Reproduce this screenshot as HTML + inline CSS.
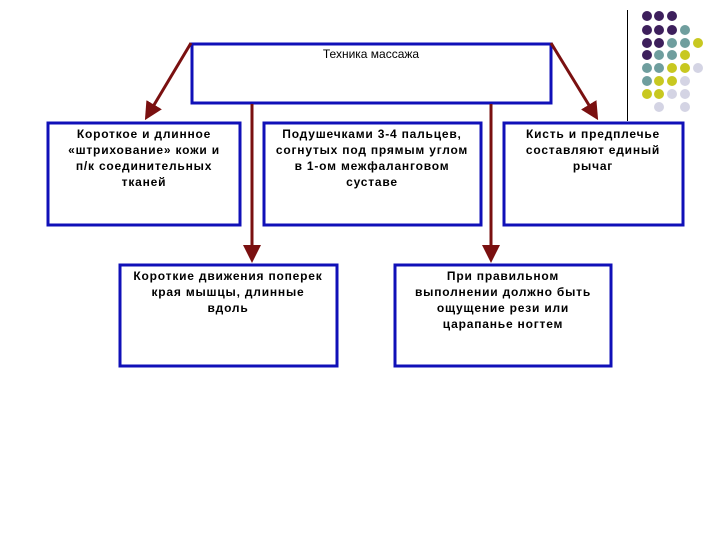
<!DOCTYPE html>
<html><head><meta charset="utf-8"><style>
html,body{margin:0;padding:0;background:#fff;}
svg{display:block;}
text{font-family:"Liberation Sans","Noto Sans CJK SC",sans-serif;font-size:12px;fill:#000;text-anchor:middle;}
.b{font-weight:bold;font-size:12px;letter-spacing:0.8px;}
</style></head><body>
<svg width="720" height="540" viewBox="0 0 720 540" xmlns="http://www.w3.org/2000/svg">
<defs>
<marker id="ah" markerWidth="6" markerHeight="6" refX="4" refY="3" orient="auto" markerUnits="strokeWidth">
<path d="M0,0 L6,3 L0,6 z" fill="#7a1010"/></marker>
</defs>
<line x1="627.5" y1="10" x2="627.5" y2="121" stroke="#000" stroke-width="1"/>
<g>
<circle cx="647" cy="16" r="5" fill="#3d1f5c"/><circle cx="659" cy="16" r="5" fill="#3d1f5c"/><circle cx="672" cy="16" r="5" fill="#3d1f5c"/>
<circle cx="647" cy="30" r="5" fill="#3d1f5c"/><circle cx="659" cy="30" r="5" fill="#3d1f5c"/><circle cx="672" cy="30" r="5" fill="#3d1f5c"/><circle cx="685" cy="30" r="5" fill="#6f9e9e"/>
<circle cx="647" cy="43" r="5" fill="#3d1f5c"/><circle cx="659" cy="43" r="5" fill="#3d1f5c"/><circle cx="672" cy="43" r="5" fill="#6f9e9e"/><circle cx="685" cy="43" r="5" fill="#6f9e9e"/><circle cx="698" cy="43" r="5" fill="#c8c820"/>
<circle cx="647" cy="55" r="5" fill="#3d1f5c"/><circle cx="659" cy="55" r="5" fill="#6f9e9e"/><circle cx="672" cy="55" r="5" fill="#6f9e9e"/><circle cx="685" cy="55" r="5" fill="#c8c820"/>
<circle cx="647" cy="68" r="5" fill="#6f9e9e"/><circle cx="659" cy="68" r="5" fill="#6f9e9e"/><circle cx="672" cy="68" r="5" fill="#c8c820"/><circle cx="685" cy="68" r="5" fill="#c8c820"/><circle cx="698" cy="68" r="5" fill="#d4d4e4"/>
<circle cx="647" cy="81" r="5" fill="#6f9e9e"/><circle cx="659" cy="81" r="5" fill="#c8c820"/><circle cx="672" cy="81" r="5" fill="#c8c820"/><circle cx="685" cy="81" r="5" fill="#d4d4e4"/>
<circle cx="647" cy="94" r="5" fill="#c8c820"/><circle cx="659" cy="94" r="5" fill="#c8c820"/><circle cx="672" cy="94" r="5" fill="#d4d4e4"/><circle cx="685" cy="94" r="5" fill="#d4d4e4"/>
<circle cx="659" cy="107" r="5" fill="#d4d4e4"/><circle cx="685" cy="107" r="5" fill="#d4d4e4"/>
</g>
<g fill="#fff" stroke="#1010b8" stroke-width="3">
<rect x="192" y="44" width="359" height="59"/>
<rect x="48" y="123" width="192" height="102"/>
<rect x="264" y="123" width="217" height="102"/>
<rect x="504" y="123" width="179" height="102"/>
<rect x="120" y="265" width="217" height="101"/>
<rect x="395" y="265" width="216" height="101"/>
</g>
<g stroke="#7a1010" stroke-width="3" fill="none">
<line x1="191" y1="43" x2="148" y2="115" marker-end="url(#ah)"/>
<line x1="551" y1="43" x2="595" y2="115" marker-end="url(#ah)"/>
<line x1="252" y1="104" x2="252" y2="257" marker-end="url(#ah)"/>
<line x1="491" y1="104" x2="491" y2="257" marker-end="url(#ah)"/>
</g>
<text x="371" y="58">Техника массажа</text>
<text class="b" x="144" y="138">Короткое и длинное</text>
<text class="b" x="144" y="154">«штрихование» кожи и</text>
<text class="b" x="144" y="170">п/к соединительных</text>
<text class="b" x="144" y="186">тканей</text>
<text class="b" x="372" y="138">Подушечками 3-4 пальцев,</text>
<text class="b" x="372" y="154">согнутых под прямым углом</text>
<text class="b" x="372" y="170">в 1-ом межфаланговом</text>
<text class="b" x="372" y="186">суставе</text>
<text class="b" x="593" y="138">Кисть и предплечье</text>
<text class="b" x="593" y="154">составляют единый</text>
<text class="b" x="593" y="170">рычаг</text>
<text class="b" x="228" y="280">Короткие движения поперек</text>
<text class="b" x="228" y="296">края мышцы, длинные</text>
<text class="b" x="228" y="312">вдоль</text>
<text class="b" x="503" y="280">При правильном</text>
<text class="b" x="503" y="296">выполнении должно быть</text>
<text class="b" x="503" y="312">ощущение рези или</text>
<text class="b" x="503" y="328">царапанье ногтем</text>
</svg>
</body></html>
